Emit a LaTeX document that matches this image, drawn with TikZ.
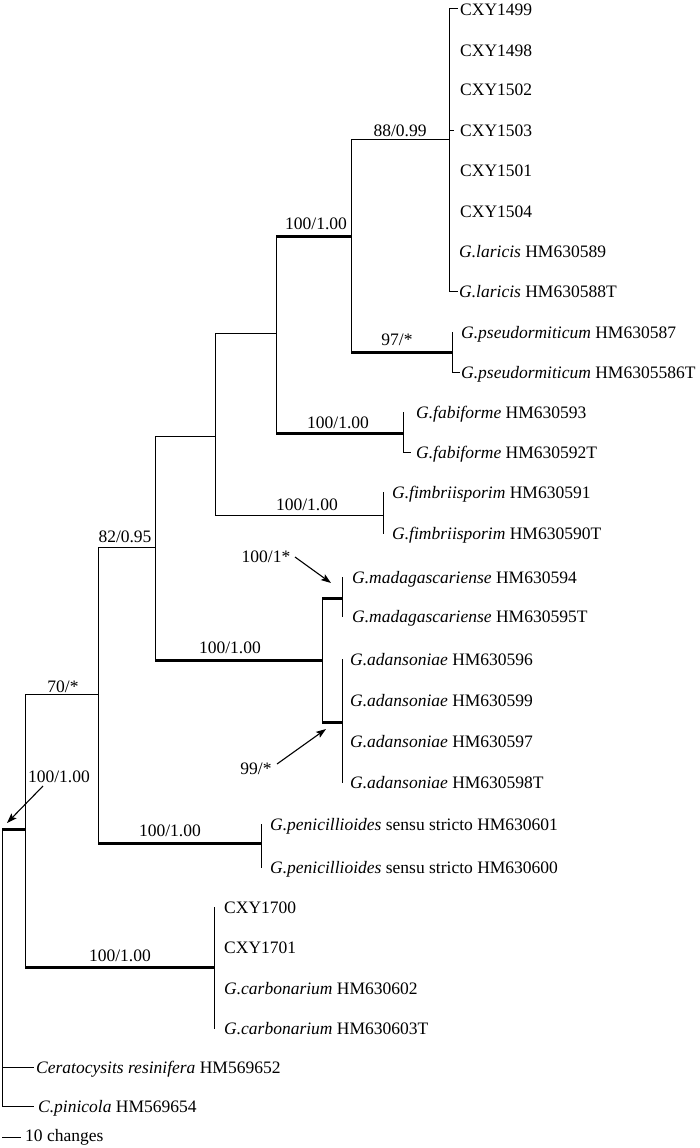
\documentclass[tikz,border=0pt]{standalone}
\usepackage{fontspec}
\setmainfont{Liberation Serif}
\usetikzlibrary{arrows.meta,calc}
\begin{document}
\begin{tikzpicture}[x=1pt,y=-1pt,
  br/.style={line width=1pt,line cap=rect},
  thk/.style={line width=3pt},
  leaf/.style={anchor=mid west,inner sep=0pt,font=\fontsize{17.5}{20}\selectfont},
  lab/.style={anchor=base,inner sep=0pt,font=\fontsize{17.5}{20}\selectfont},
  arr/.style={line width=1.1pt,-{Stealth[length=10pt,width=7pt,inset=2pt]}}]
\useasboundingbox (0,0) rectangle (700,1148);
% internal nodes
\coordinate (R) at (2,829);
\coordinate (H) at (25,829);
\coordinate (G) at (98,694);
\coordinate (E) at (155,547);
\coordinate (D) at (215,436);
\coordinate (C) at (276,333);
\coordinate (B) at (351,236);
\coordinate (A) at (449,139);
\coordinate (P) at (452,352);
\coordinate (F) at (403,433);
\coordinate (Fi) at (383,515);
\coordinate (M) at (322,660);
\coordinate (Ma) at (342,598);
\coordinate (Ad) at (342,722);
\coordinate (Pe) at (261,843);
\coordinate (Ca) at (214,967);
% leaves
\coordinate (L0) at (457,9);
\coordinate (L1) at (449,50);
\coordinate (L2) at (449,89);
\coordinate (L3) at (453,130);
\coordinate (L4) at (449,170);
\coordinate (L5) at (449,211);
\coordinate (L6) at (449,251);
\coordinate (L7) at (457,291);
\coordinate (L8) at (452,332);
\coordinate (L9) at (459,372);
\coordinate (L10) at (403,412);
\coordinate (L11) at (410,452);
\coordinate (L12) at (383,492);
\coordinate (L13) at (383,533);
\coordinate (L14) at (342,577);
\coordinate (L15) at (342,616);
\coordinate (L16) at (342,659);
\coordinate (L17) at (342,700);
\coordinate (L18) at (342,741);
\coordinate (L19) at (342,782);
\coordinate (L20) at (261,824);
\coordinate (L21) at (261,867);
\coordinate (L22) at (214,907);
\coordinate (L23) at (214,947);
\coordinate (L24) at (214,988);
\coordinate (L25) at (214,1028);
\coordinate (L26) at (33,1067);
\coordinate (L27) at (33,1106);
% verticals
\draw[br] (R) -- (R |- L27);
\draw[br] (H |- G) -- (H |- Ca);
\draw[br] (G |- E) -- (G |- Pe);
\draw[br] (E |- D) -- (E |- M);
\draw[br] (D |- C) -- (D |- Fi);
\draw[br] (C |- B) -- (C |- F);
\draw[br] (B |- A) -- (B |- P);
\draw[br] (A |- L0) -- (A |- L7);
\draw[br] (P |- L8) -- (P |- L9);
\draw[br] (F |- L10) -- (F |- L11);
\draw[br] (Fi |- L12) -- (Fi |- L13);
\draw[br] (M |- Ma) -- (M |- Ad);
\draw[br] (Ma |- L14) -- (Ma |- L15);
\draw[br] (Ad |- L16) -- (Ad |- L19);
\draw[br] (Pe |- L20) -- (Pe |- L21);
\draw[br] (Ca |- L22) -- (Ca |- L25);
% horizontals
\draw[thk] (R) -- (H);
\draw[br] (H |- G) -- (G);
\draw[thk] (H |- Ca) -- (Ca);
\draw[br] (G |- E) -- (E);
\draw[thk] (G |- Pe) -- (Pe);
\draw[br] (E |- D) -- (D);
\draw[thk] (E |- M) -- (M);
\draw[br] (D |- C) -- (C);
\draw[br] (D |- Fi) -- (Fi);
\draw[thk] (C |- B) -- (B);
\draw[thk] (C |- F) -- (F);
\draw[br] (B |- A) -- (A);
\draw[thk] (B |- P) -- (P);
\draw[thk] (M |- Ma) -- (Ma);
\draw[thk] (M |- Ad) -- (Ad);
% terminal branches
\draw[br] (A |- L0) -- (L0);
\draw[br] (A |- L3) -- (L3);
\draw[br] (A |- L7) -- (L7);
\draw[br] (P |- L9) -- (L9);
\draw[br] (F |- L11) -- (L11);
\draw[br] (R |- L26) -- (L26);
\draw[br] (R |- L27) -- (L27);
% leaf labels
\node[leaf] (t0) at (460,13) {CXY1499};
\node[leaf] (t1) at (460,54) {CXY1498};
\node[leaf] (t2) at (460,93) {CXY1502};
\node[leaf] (t3) at (460,134) {CXY1503};
\node[leaf] (t4) at (460,174) {CXY1501};
\node[leaf] (t5) at (460,215) {CXY1504};
\node[leaf] (t6) at (459,255) {\textit{G.laricis} HM630589};
\node[leaf] (t7) at (459,295) {\textit{G.laricis} HM630588T};
\node[leaf] (t8) at (461,336) {\textit{G.pseudormiticum} HM630587};
\node[leaf] (t9) at (461,376) {\textit{G.pseudormiticum} HM6305586T};
\node[leaf] (t10) at (416,416) {\textit{G.fabiforme} HM630593};
\node[leaf] (t11) at (416,456) {\textit{G.fabiforme} HM630592T};
\node[leaf] (t12) at (392,496) {\textit{G.fimbriisporim} HM630591};
\node[leaf] (t13) at (392,537) {\textit{G.fimbriisporim} HM630590T};
\node[leaf] (t14) at (352,581) {\textit{G.madagascariense} HM630594};
\node[leaf] (t15) at (352,620) {\textit{G.madagascariense} HM630595T};
\node[leaf] (t16) at (350,663) {\textit{G.adansoniae} HM630596};
\node[leaf] (t17) at (350,704) {\textit{G.adansoniae} HM630599};
\node[leaf] (t18) at (350,745) {\textit{G.adansoniae} HM630597};
\node[leaf] (t19) at (350,786) {\textit{G.adansoniae} HM630598T};
\node[leaf] (t20) at (270,828) {\textit{G.penicillioides} sensu stricto HM630601};
\node[leaf] (t21) at (270,871) {\textit{G.penicillioides} sensu stricto HM630600};
\node[leaf] (t22) at (224,911) {CXY1700};
\node[leaf] (t23) at (224,951) {CXY1701};
\node[leaf] (t24) at (224,992) {\textit{G.carbonarium} HM630602};
\node[leaf] (t25) at (224,1032) {\textit{G.carbonarium} HM630603T};
\node[leaf] (t26) at (36,1071) {\textit{Ceratocysits resinifera} HM569652};
\node[leaf] (t27) at (38,1110) {\textit{C.pinicola} HM569654};
% support labels
\node[lab] (s1) at (400,136) {88/0.99};
\node[lab] (s2) at (316,229) {100/1.00};
\node[lab] (s3) at (397,345) {97/*};
\node[lab] (s4) at (338,428) {100/1.00};
\node[lab] (s5) at (307,510) {100/1.00};
\node[lab] (s6) at (125,542) {82/0.95};
\node[lab] (s7) at (230,653) {100/1.00};
\node[lab] (s8) at (63,692) {70/*};
\node[lab] (s9) at (170,836) {100/1.00};
\node[lab] (s10) at (120,961) {100/1.00};
% arrowed labels
\node[lab] (a1) at (266,562) {100/1*};
\coordinate (a1s) at (295,557);
\coordinate (a1t) at (331,583);
\draw[arr] (a1s) -- (a1t);
\node[lab] (a2) at (256,774) {99/*};
\coordinate (a2s) at (277,764);
\coordinate (a2t) at (326,729);
\draw[arr] (a2s) -- (a2t);
\node[lab] (a3) at (59,782) {100/1.00};
\coordinate (a3s) at (43,786);
\coordinate (a3t) at (7,823);
\draw[arr] (a3s) -- (a3t);
% scale bar
\coordinate (sb1) at (2,1137);
\coordinate (sb2) at (20,1137);
\draw[br] (sb1) -- (sb2);
\node[leaf] (sbt) at (25,1139) {10 changes};
\end{tikzpicture}
\end{document}
